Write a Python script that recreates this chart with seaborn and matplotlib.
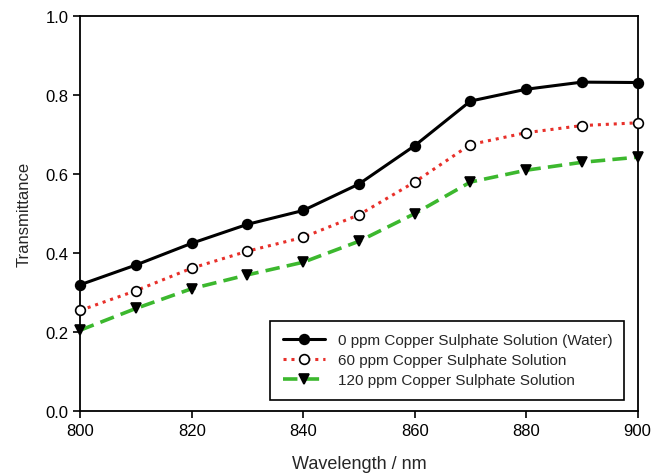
import numpy as np
import pandas as pd
import matplotlib
matplotlib.use("Agg")
import matplotlib.pyplot as plt
import seaborn as sns

# wavelength and transmittance
wavelength = [800, 810, 820, 830, 840, 850, 860, 870, 880, 890, 900]
water = [0.320, 0.370, 0.425, 0.473, 0.508, 0.575, 0.672, 0.785, 0.815, 0.833, 0.832]
cu_60 = [0.255, 0.305, 0.362, 0.405, 0.440, 0.497, 0.580, 0.675, 0.705, 0.723, 0.730]
cu_120 = [0.205, 0.260, 0.310, 0.345, 0.377, 0.430, 0.500, 0.580, 0.610, 0.630, 0.643]

labels = ["0 ppm Copper Sulphate Solution (Water)",
          "60 ppm Copper Sulphate Solution",
          "120 ppm Copper Sulphate Solution"]

df = pd.DataFrame({"Wavelength": wavelength * 3,
                   "T": water + cu_60 + cu_120,
                   "Sample": [labels[0]] * 11 + [labels[1]] * 11 + [labels[2]] * 11})

sns.set_style("ticks")
plt.rcParams['font.family'] = ['Liberation Sans', 'DejaVu Sans']

fig = plt.figure(figsize=(6.52, 4.77), dpi=100)
ax = fig.add_axes([0.123, 0.136, 0.855, 0.828])

styles = {labels[0]: dict(color="black", ls="-", lw=2.2, marker="o", mfc="black", ms=7),
          labels[1]: dict(color="#e8302a", ls=(0, (1, 1.6)), lw=2.2, marker="o", mfc="white",
                          mec="black", ms=7),
          labels[2]: dict(color="#3cb82e", ls=(0, (4, 2)), lw=2.6, marker="v", mfc="black",
                          mec="black", ms=7)}

for lab in labels:
    sub = df[df["Sample"] == lab]
    st = styles[lab]
    sns.lineplot(data=sub, x="Wavelength", y="T", ax=ax, label=lab,
                 color=st["color"], linestyle=st["ls"], linewidth=st["lw"],
                 marker=st["marker"], markerfacecolor=st["mfc"],
                 markeredgecolor=st.get("mec", "black"), markersize=st["ms"],
                 markeredgewidth=1.2, clip_on=False, zorder=3)

ax.set_xlim(800, 900)
ax.set_ylim(0, 1.0)
ax.set_xticks([800, 820, 840, 860, 880, 900])
ax.set_yticks([0.0, 0.2, 0.4, 0.6, 0.8, 1.0])
ax.set_yticklabels(["0.0", "0.2", "0.4", "0.6", "0.8", "1.0"])
ax.tick_params(direction="out", length=5, width=1.2, labelsize=12, colors="black")
for s in ax.spines.values():
    s.set_color("black")
    s.set_linewidth(1.3)
ax.set_xlabel("Wavelength / nm", fontsize=13, labelpad=12)
ax.set_ylabel("Transmittance", fontsize=12, labelpad=10)

leg = ax.legend(loc="lower right", fontsize=11, frameon=True, fancybox=False,
                edgecolor="black", borderpad=0.8, handlelength=2.8,
                labelspacing=0.4, bbox_to_anchor=(0.99, 0.01), framealpha=1)
leg.get_frame().set_linewidth(1.2)
leg.set_zorder(5)

fig.savefig("out.png", dpi=100)
